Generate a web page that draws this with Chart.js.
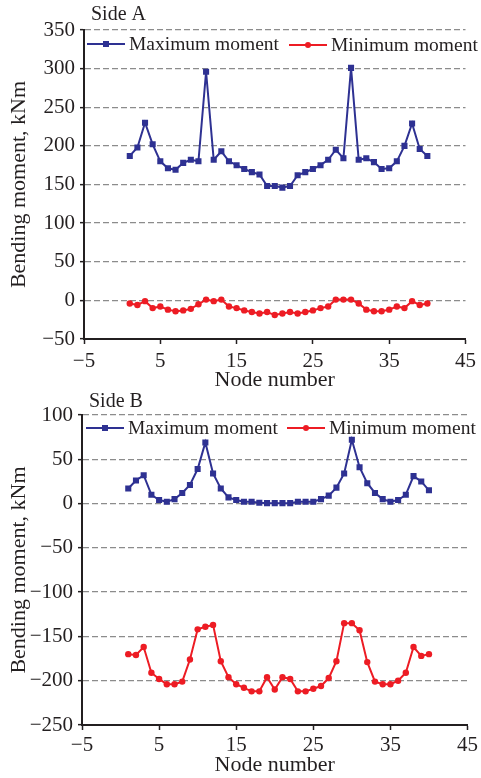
<!DOCTYPE html>
<html>
<head>
<meta charset="utf-8">
<script src="https://cdn.jsdelivr.net/npm/chart.js@4/dist/chart.umd.min.js"></script>
<style>
  html, body { margin: 0; padding: 0; background: #fff; }
  .panel { position: absolute; left: 0; width: 481px; }
  #panelA { top: 0; height: 390px; }
  #panelB { top: 390px; height: 388px; }
</style>
</head>
<body>
<div class="panel" id="panelA"><canvas id="chartA" width="481" height="390"></canvas></div>
<div class="panel" id="panelB"><canvas id="chartB" width="481" height="388"></canvas></div>
<script>
// Datos
const nodes = [1, 2, 3, 4, 5, 6, 7, 8, 9, 10, 11, 12, 13, 14, 15, 16, 17, 18, 19, 20,
  21, 22, 23, 24, 25, 26, 27, 28, 29, 30, 31, 32, 33, 34, 35, 36, 37, 38, 39, 40];

const maxMomentA = [187, 198, 230, 202, 180, 171, 169, 178, 182, 180, 296, 182, 193, 180, 175, 170, 166, 163, 148, 148,
  146, 148, 162, 166, 170, 175, 182, 195, 184, 301, 182, 184, 179, 170, 171, 180, 200, 229, 196, 187];
const minMomentA = [-4, -6, -1, -10, -8, -12, -14, -13, -11, -5, 1, -1, 1, -8, -10, -13, -15, -17, -15, -19,
  -17, -15, -17, -15, -13, -10, -8, 1, 1, 1, -4, -12, -14, -14, -12, -8, -10, -1, -6, -4];

const maxMomentB = [17, 26, 32, 10, 4, 2, 5, 12, 21, 39, 69, 34, 17, 7, 4, 2, 2, 1, 0.5, 0.5,
  0.5, 0.5, 2, 2, 2, 5, 9, 18, 34, 72, 41, 23, 12, 5, 2, 4, 10, 31, 25, 15];
const minMomentB = [-170, -171, -162, -191, -198, -204, -204, -201, -176, -142, -139, -137, -178, -196, -204, -208, -212, -212, -196, -210,
  -196, -198, -212, -212, -209, -206, -197, -178, -135, -135, -143, -179, -201, -204, -204, -200, -191, -162, -172, -170];

const xTicks = [-5, 5, 15, 25, 35, 45];
const yTicksA = [-50, 0, 50, 100, 150, 200, 250, 300, 350];
const yTicksB = [-250, -200, -150, -100, -50, 0, 50, 100];

const seriesNames = ["Maximum moment", "Minimum moment"];
const BLUE = "#2e3192";
const RED = "#ed1c24";
const INK = "#231f20";
const FONT = '"Liberation Serif", "Times New Roman", serif';

function toPoints(values) {
  return nodes.map((n, i) => ({ x: n, y: values[i] }));
}

function fmt(v) {
  return v < 0 ? "\u2212" + Math.abs(v) : String(v);
}

// Titulo del panel y leyenda dentro del area
const decor = {
  id: "decor",
  afterDraw(chart, args, opts) {
    const ctx = chart.ctx;
    ctx.save();
    ctx.fillStyle = INK;
    ctx.textBaseline = "middle";
    ctx.font = "20px " + FONT;
    ctx.fillText(opts.title, opts.titleX, opts.titleY);

    ctx.font = "19.5px " + FONT;
    opts.items.forEach((it, i) => {
      const ds = chart.data.datasets[i];
      ctx.strokeStyle = ds.borderColor;
      ctx.lineWidth = 2;
      ctx.beginPath();
      ctx.moveTo(it.x, it.y);
      ctx.lineTo(it.x + 38, it.y);
      ctx.stroke();
      ctx.fillStyle = ds.borderColor;
      const cx = it.x + 19;
      if (ds.pointStyle === "rect") {
        ctx.fillRect(cx - 3, it.y - 3, 6, 6);
      } else {
        ctx.beginPath();
        ctx.arc(cx, it.y, 3, 0, Math.PI * 2);
        ctx.fill();
      }
      ctx.fillStyle = INK;
      ctx.fillText(ds.label, it.x + 42, it.y + 1);
    });
    ctx.restore();
  }
};

function makeChart(id, maxVals, minVals, yMin, yMax, yTicks, geo) {
  const ctx = document.getElementById(id);
  return new Chart(ctx, {
    type: "line",
    data: {
      datasets: [
        {
          label: seriesNames[0],
          data: toPoints(maxVals),
          borderColor: BLUE,
          backgroundColor: BLUE,
          borderWidth: 2,
          pointStyle: "rect",
          pointRadius: 4.3,
          pointBorderWidth: 0,
          tension: 0
        },
        {
          label: seriesNames[1],
          data: toPoints(minVals),
          borderColor: RED,
          backgroundColor: RED,
          borderWidth: 2,
          pointStyle: "circle",
          pointRadius: 3.2,
          pointBorderWidth: 0,
          tension: 0
        }
      ]
    },
    options: {
      responsive: false,
      animation: false,
      layout: { padding: { top: geo.top, right: geo.right, left: 0, bottom: 0 } },
      plugins: {
        legend: { display: false },
        tooltip: { enabled: false },
        decor: geo.decor
      },
      scales: {
        x: {
          type: "linear",
          min: -5,
          max: 45,
          afterBuildTicks: s => { s.ticks = xTicks.map(v => ({ value: v })); },
          afterFit: s => { s.height = geo.xHeight; },
          ticks: {
            font: { family: FONT, size: 21 },
            color: INK,
            padding: geo.xTickPad,
            maxRotation: 0,
            callback: v => fmt(v)
          },
          grid: {
            drawOnChartArea: false,
            drawTicks: true,
            tickLength: 5,
            tickColor: INK,
            tickWidth: 1.5
          },
          border: { display: true, color: INK, width: 2 },
          title: {
            display: true,
            text: "Node number",
            font: { family: FONT, size: 22 },
            color: INK,
            padding: { top: 0, bottom: geo.xTitlePad }
          }
        },
        y: {
          min: yMin,
          max: yMax,
          afterBuildTicks: s => { s.ticks = yTicks.map(v => ({ value: v })); },
          afterFit: s => { s.width = geo.yWidth; },
          ticks: {
            font: { family: FONT, size: 21 },
            color: INK,
            padding: 5,
            callback: v => fmt(v)
          },
          grid: {
            color: c => (c.tick && c.tick.value === yMin ? "rgba(0,0,0,0)" : "#8c8c8c"),
            lineWidth: 1.3,
            tickLength: 4,
            tickColor: INK,
            tickWidth: 1.5
          },
          border: { display: true, color: INK, width: 2, dash: [6, 3] },
          title: {
            display: true,
            text: "Bending moment, kNm",
            font: { family: FONT, size: 22 },
            color: INK,
            padding: { top: 6, bottom: 0 }
          }
        }
      }
    },
    plugins: [decor]
  });
}

makeChart("chartA", maxMomentA, minMomentA, -50, 350, yTicksA, {
  top: 30, right: 10, yWidth: 84, xHeight: 51, xTickPad: 5, xTitlePad: -3,
  decor: {
    title: "Side A", titleX: 91, titleY: 15,
    items: [{ x: 87, y: 44 }, { x: 289, y: 45 }]
  }
});

makeChart("chartB", maxMomentB, minMomentB, -250, 100, yTicksB, {
  top: 25, right: 11, yWidth: 82, xHeight: 53, xTickPad: 3, xTitlePad: 0,
  decor: {
    title: "Side B", titleX: 89, titleY: 12,
    items: [{ x: 86, y: 38 }, { x: 287, y: 38 }]
  }
});
</script>
</body>
</html>
